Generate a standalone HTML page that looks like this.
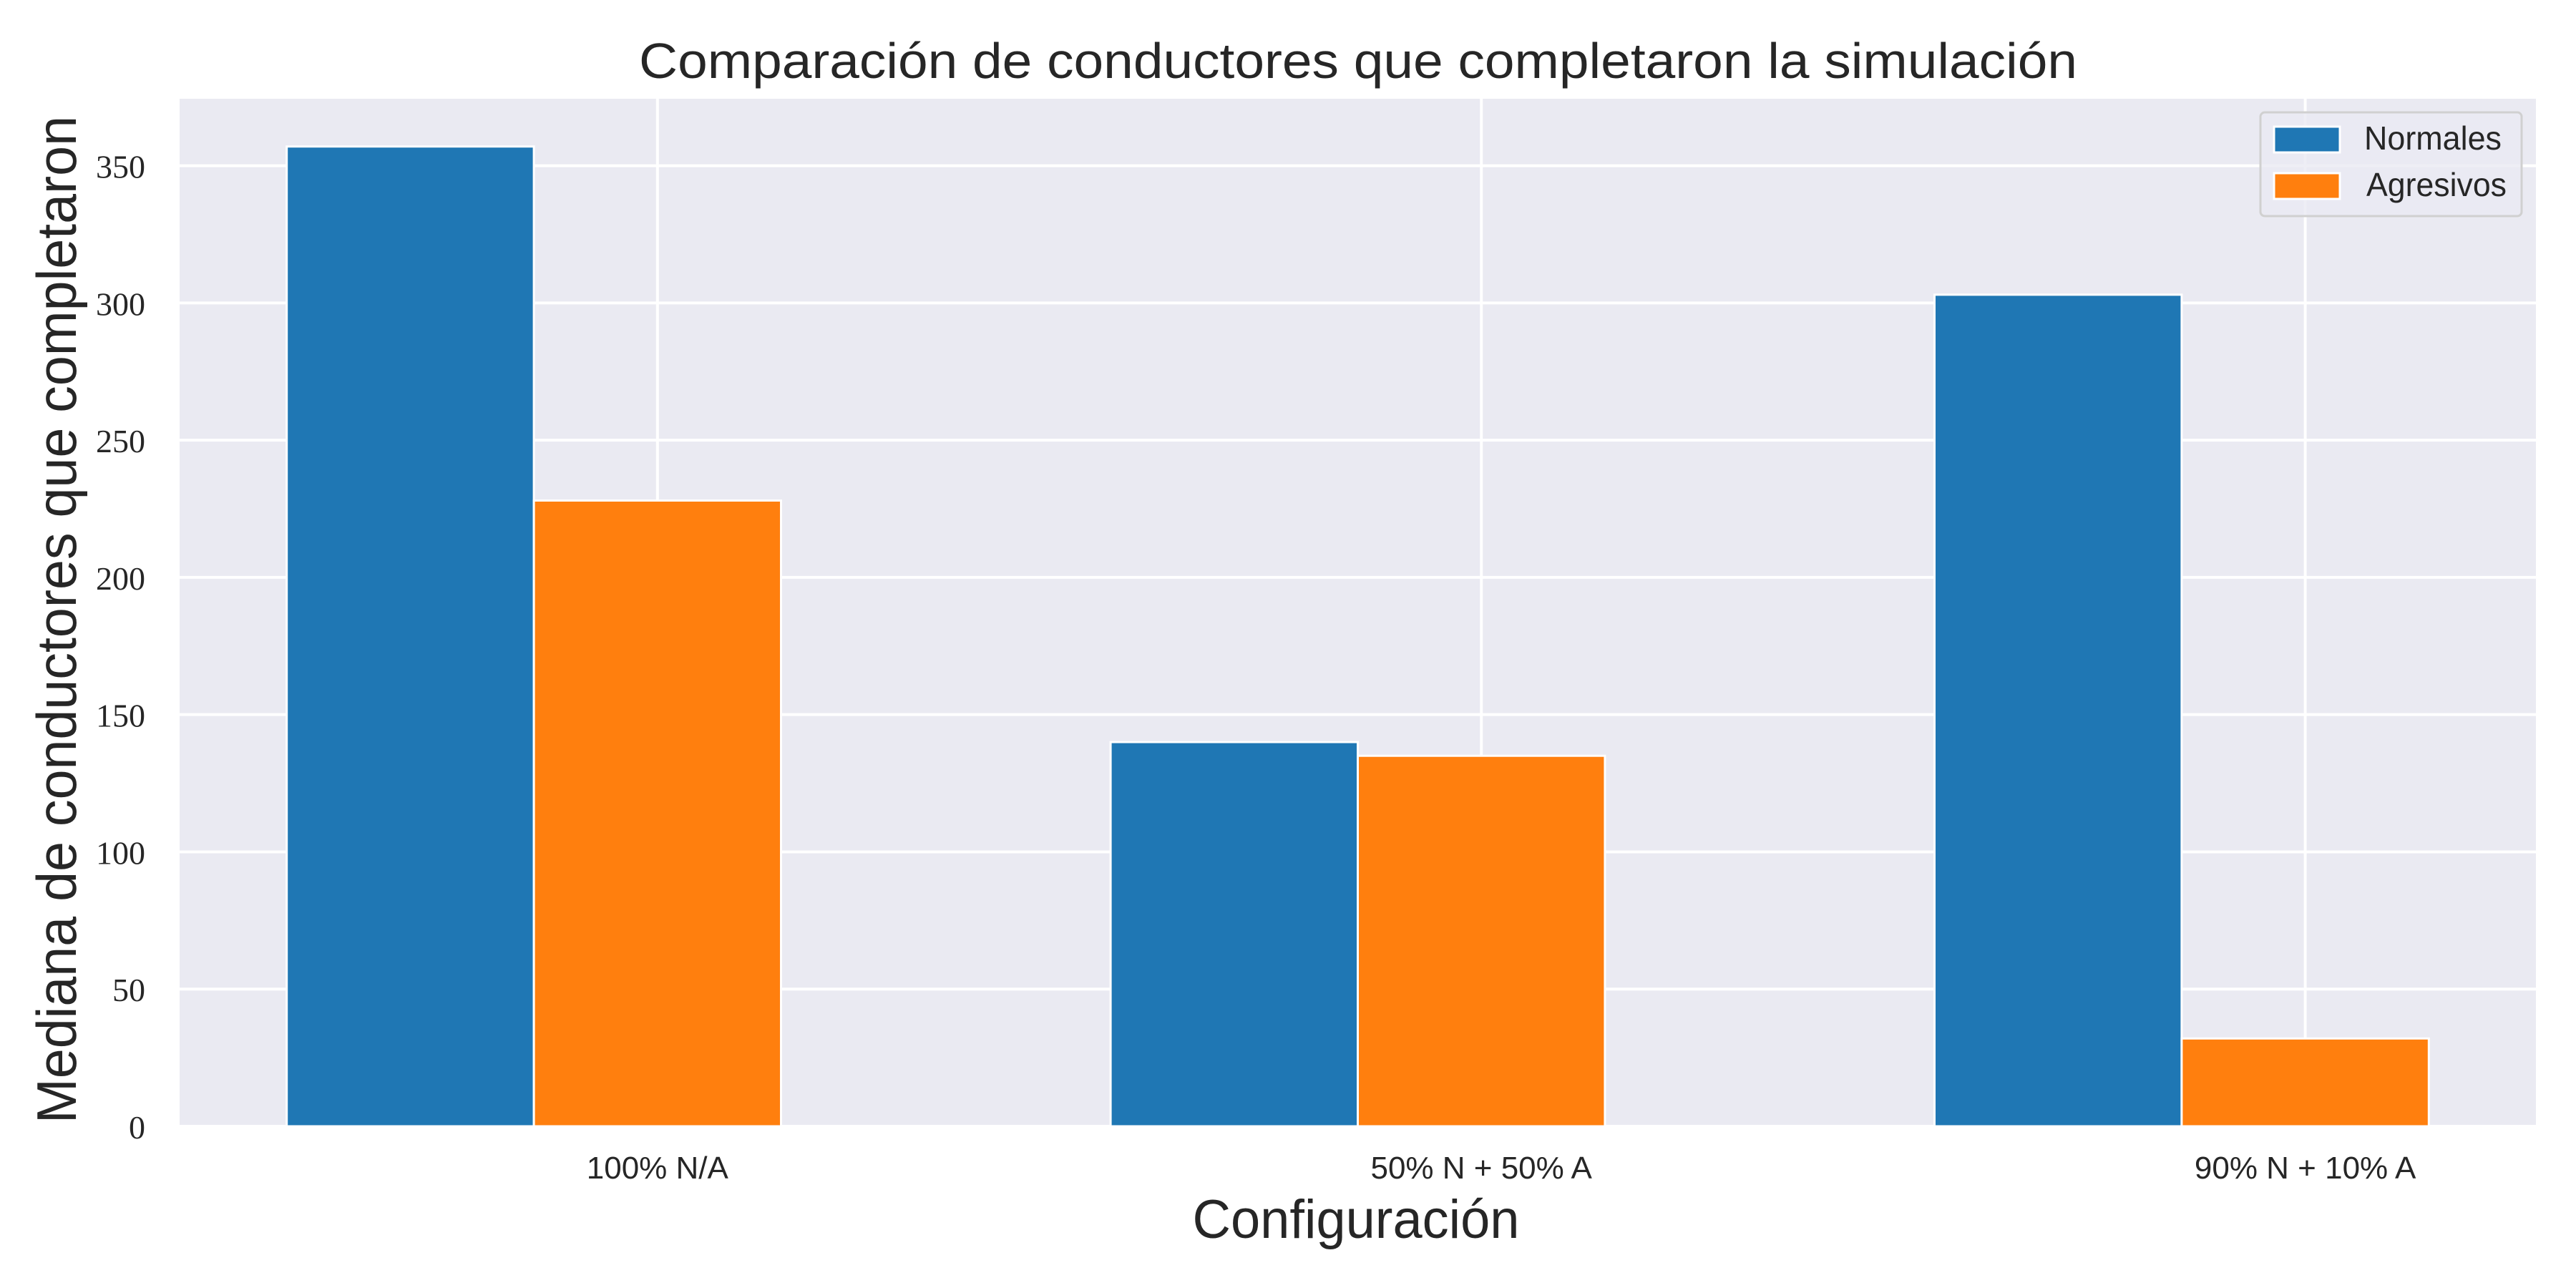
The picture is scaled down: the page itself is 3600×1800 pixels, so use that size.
<!DOCTYPE html>
<html><head><meta charset="utf-8"><style>
html,body{margin:0;padding:0;background:#fff;}
svg{display:block;}
</style></head><body>
<svg id="chart" width="3600" height="1800" viewBox="0 0 3600 1800" xmlns="http://www.w3.org/2000/svg">
<rect x="251" y="138" width="3293" height="1436" fill="#eaeaf2"/>
<g id="grid"></g>
<g id="bars"></g>
<g id="yticks"></g>
<g id="xticks"></g>
<text x="1898" y="109" text-anchor="middle" font-family="Liberation Sans, sans-serif" font-size="70" fill="#262626" textLength="2010" lengthAdjust="spacingAndGlyphs">Comparación de conductores que completaron la simulación</text>
<text x="1895" y="1730" text-anchor="middle" font-family="Liberation Sans, sans-serif" font-size="76" fill="#262626" textLength="457" lengthAdjust="spacingAndGlyphs">Configuración</text>
<text transform="translate(106,866) rotate(-90)" x="0" y="0" text-anchor="middle" font-family="Liberation Sans, sans-serif" font-size="78" fill="#262626" textLength="1408" lengthAdjust="spacingAndGlyphs">Mediana de conductores que completaron</text>
<g>
<rect x="3159" y="157" width="365" height="145" rx="6" fill="#eaeaf2" fill-opacity="0.8" stroke="#d0d0d0" stroke-width="3"/>
<rect x="3178" y="177" width="92" height="36" fill="#1f77b4" stroke="#fff" stroke-width="3"/>
<text x="3304" y="209" font-family="Liberation Sans, sans-serif" font-size="46" fill="#262626" textLength="192" lengthAdjust="spacingAndGlyphs">Normales</text>
<rect x="3178" y="242" width="92" height="36" fill="#ff7f0e" stroke="#fff" stroke-width="3"/>
<text x="3307" y="274" font-family="Liberation Sans, sans-serif" font-size="46" fill="#262626" textLength="196" lengthAdjust="spacingAndGlyphs">Agresivos</text>
</g>
</svg>
<script>
const categories = ["100% N/A", "50% N + 50% A", "90% N + 10% A"];
const normales = [357, 140, 303];
const agresivos = [228, 135, 32];
const yTicks = [0, 50, 100, 150, 200, 250, 300, 350];

const NS = "http://www.w3.org/2000/svg";
const plotL = 251, plotR = 3544, plotT = 138, plotB = 1574;
const xMin = -0.58, xMax = 2.28, yMin = 0, yMax = 374.4;
const barW = 0.3;
function xs(v){ return plotL + (v - xMin) / (xMax - xMin) * (plotR - plotL); }
function ys(v){ return plotB - (v - yMin) / (yMax - yMin) * (plotB - plotT); }
function mk(tag, attrs, parent){
  const el = document.createElementNS(NS, tag);
  for (const k in attrs) el.setAttribute(k, attrs[k]);
  parent.appendChild(el);
  return el;
}
const grid = document.getElementById('grid');
const bars = document.getElementById('bars');
const yt = document.getElementById('yticks');
const xt = document.getElementById('xticks');

yTicks.forEach(t => {
  const y = ys(t);
  const l = mk('line', {x1: plotL, x2: plotR, y1: y, y2: y, stroke: '#fff', 'stroke-width': 4}, grid);
  
  
  const tx = mk('text', {x: 203, y: y + 17, 'text-anchor': 'end', 'font-family': 'Liberation Serif, serif', 'font-size': 46, fill: '#262626'}, yt);
  tx.textContent = String(t);
  
  
});

categories.forEach((c, i) => {
  const x = xs(i);
  const l = mk('line', {x1: x, x2: x, y1: plotT, y2: plotB, stroke: '#fff', 'stroke-width': 4}, grid);
  
  
  const tx = mk('text', {x: x, y: 1647, 'text-anchor': 'middle', 'font-family': 'Liberation Sans, sans-serif', 'font-size': 44, fill: '#262626'}, xt);
  tx.textContent = c;
  
  

  const bx = xs(i - 1.5 * barW), bx2 = xs(i - 0.5 * barW), bx3 = xs(i + 0.5 * barW);
  const b1 = mk('rect', {x: bx, y: ys(normales[i]), width: bx2 - bx, height: ys(0) - ys(normales[i]), fill: '#1f77b4', stroke: '#fff', 'stroke-width': 3}, bars);
  
  
  const b2 = mk('rect', {x: bx2, y: ys(agresivos[i]), width: bx3 - bx2, height: ys(0) - ys(agresivos[i]), fill: '#ff7f0e', stroke: '#fff', 'stroke-width': 3}, bars);
  
  
});
</script>
</body></html>
